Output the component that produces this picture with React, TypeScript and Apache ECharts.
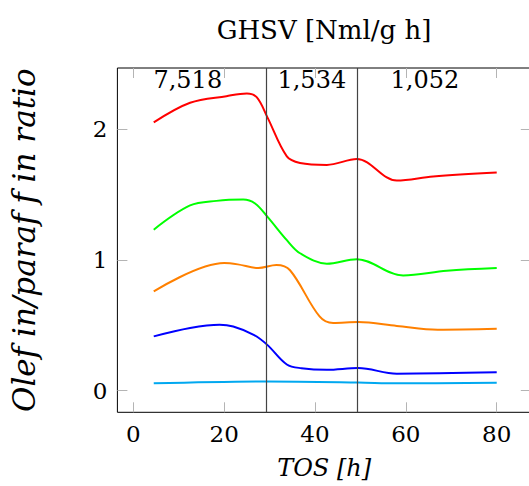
import React, { useEffect, useRef } from "react";
import * as echarts from "echarts";

// Olefin/paraffin ratio vs time on stream, one line per carbon fraction
const redTos = [4.5, 12.5, 20.5, 25, 27.2, 29.5, 33.8, 36.7, 42.6, 49.2, 58, 66, 80];
const redRatio = [2.05, 2.2, 2.25, 2.27, 2.24, 2.09, 1.79, 1.74, 1.725, 1.77, 1.605, 1.636, 1.666];

const greenTos = [4.5, 12.5, 18.3, 24.2, 26.8, 29.5, 33.8, 36.7, 42.6, 49.2, 59.4, 69, 80];
const greenRatio = [1.23, 1.415, 1.45, 1.46, 1.43, 1.33, 1.15, 1.05, 0.97, 1.005, 0.88, 0.916, 0.937];

const orangeTos = [4.5, 20, 23, 27.5, 31.5, 34.5, 41, 44, 49.5, 58, 67, 80];
const orangeRatio = [0.758, 0.975, 0.965, 0.937, 0.96, 0.92, 0.567, 0.517, 0.524, 0.495, 0.466, 0.473];

const blueTos = [4.5, 12.5, 19, 22, 26.5, 29.5, 33.8, 37, 42.6, 49.5, 58, 80];
const blueRatio = [0.415, 0.479, 0.504, 0.49, 0.427, 0.35, 0.2, 0.172, 0.16, 0.173, 0.13, 0.14];

const cyanTos = [4.5, 29.5, 49.5, 58, 80];
const cyanRatio = [0.056, 0.071, 0.063, 0.056, 0.061];

// GHSV change points and labels
const ghsvChangeTos = [29.2, 49.2];
const ghsvLabels = ["7,518", "1,534", "1,052"];
const ghsvLabelTos = [12, 39.3, 64.2];
const ghsvLabelY = 2.37;

const xTicks = [0, 20, 40, 60, 80];
const yTicks = [0, 1, 2];

const pairs = (xs: number[], ys: number[]) => xs.map((x, i) => [x, ys[i]]);

const FONT = "DejaVu Serif";
const TICK_COLOR = "#b4b4b4";
const CHART_W = 545;

export default function App() {
  const ref = useRef<HTMLDivElement>(null);
  useEffect(() => {
    if (!ref.current) return;
    const chart = echarts.init(ref.current, null, { renderer: "svg" });
    const X_MIN = -3.5;
    const X_MAX = 87.5;
    const Y_MIN = -0.165;
    const Y_MAX = 2.465;
    const tickCommon = {
      show: true,
      inside: true,
      length: 10,
      lineStyle: { color: TICK_COLOR, width: 1 },
    };
    const hiddenLine = { show: false, onZero: false };
    const lineSeries = (name: string, xs: number[], ys: number[], color: string) => ({
      type: "line",
      name,
      data: pairs(xs, ys),
      smooth: 0.35,
      symbol: "none",
      lineStyle: { color, width: 2 },
      z: 3,
    });
    chart.setOption({
      animation: false,
      grid: {
        left: 117.4,
        right: CHART_W - 530.8,
        top: 68,
        bottom: 73.7,
        show: true,
        borderColor: "#000",
        borderWidth: 1,
        backgroundColor: "transparent",
      },
      graphic: [
        {
          type: "text",
          x: 324,
          y: 30,
          style: {
            text: "GHSV [Nml/g h]",
            font: `26px "${FONT}"`,
            fill: "#000",
            textAlign: "center",
            textVerticalAlign: "middle",
          },
        },
      ],
      xAxis: [
        {
          type: "value",
          min: X_MIN,
          max: X_MAX,
          position: "bottom",
          axisLine: hiddenLine,
          splitLine: { show: false },
          axisTick: { ...tickCommon, customValues: xTicks },
          axisLabel: {
            customValues: xTicks,
            fontFamily: FONT,
            fontSize: 23,
            color: "#000",
            margin: 10,
          },
          name: "TOS [h]",
          nameLocation: "middle",
          nameGap: 44,
          nameTextStyle: {
            fontFamily: FONT,
            fontStyle: "italic",
            fontSize: 24,
            color: "#000",
          },
        },
        {
          type: "value",
          min: X_MIN,
          max: X_MAX,
          position: "top",
          axisLine: hiddenLine,
          splitLine: { show: false },
          axisTick: { ...tickCommon, customValues: xTicks },
          axisLabel: { show: false },
        },
      ],
      yAxis: [
        {
          type: "value",
          min: Y_MIN,
          max: Y_MAX,
          position: "left",
          axisLine: hiddenLine,
          splitLine: { show: false },
          axisTick: { ...tickCommon, customValues: yTicks },
          axisLabel: {
            customValues: yTicks,
            fontFamily: FONT,
            fontSize: 23,
            color: "#000",
            margin: 10,
          },
          name: "Olef in/paraf f in ratio",
          nameLocation: "middle",
          nameGap: 78,
          nameRotate: 90,
          nameTextStyle: {
            fontFamily: FONT,
            fontStyle: "italic",
            fontSize: 31,
            color: "#000",
          },
        },
        {
          type: "value",
          min: Y_MIN,
          max: Y_MAX,
          position: "right",
          axisLine: hiddenLine,
          splitLine: { show: false },
          axisTick: { ...tickCommon, customValues: yTicks },
          axisLabel: { show: false },
        },
      ],
      series: [
        lineSeries("cyan", cyanTos, cyanRatio, "#00a8f0"),
        lineSeries("blue", blueTos, blueRatio, "#0000ff"),
        lineSeries("orange", orangeTos, orangeRatio, "#ff8000"),
        lineSeries("green", greenTos, greenRatio, "#00ff00"),
        {
          ...lineSeries("red", redTos, redRatio, "#ff0000"),
          markLine: {
            silent: true,
            symbol: "none",
            label: { show: false },
            lineStyle: { color: "#444", width: 1.2, type: "solid" },
            data: ghsvChangeTos.map((x) => ({ xAxis: x })),
            z: 5,
          },
        },
        {
          type: "scatter",
          data: ghsvLabelTos.map((x, i) => ({ value: [x, ghsvLabelY], name: ghsvLabels[i] })),
          symbolSize: 0,
          itemStyle: { opacity: 1 },
          label: {
            show: true,
            position: "inside",
            formatter: (p: any) => p.name,
            fontFamily: FONT,
            fontSize: 24,
            color: "#000",
            opacity: 1,
            textBorderWidth: 0,
          },
          z: 6,
        },
      ],
    });
    return () => chart.dispose();
  }, []);
  return (
    <div style={{ position: "fixed", left: 0, top: 0, width: 529, height: 486, overflow: "hidden", background: "#fff" }}>
      <div ref={ref} style={{ width: CHART_W, height: 486 }} />
    </div>
  );
}
